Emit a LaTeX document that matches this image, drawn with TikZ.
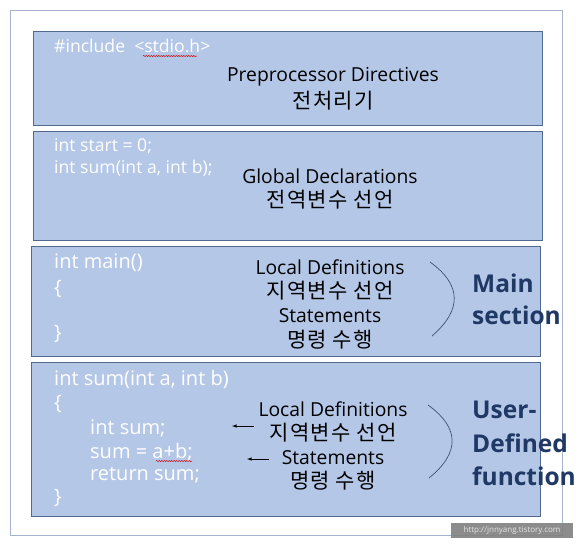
\documentclass[tikz,border=0pt]{standalone}
\usepackage{fontspec}
\setmainfont{Open Sans}
\newfontfamily\kr{Noto Sans CJK KR}[LetterSpace=6]
\usetikzlibrary{decorations.pathmorphing}
\definecolor{boxfill}{RGB}{180,199,231}
\definecolor{boxline}{RGB}{80,105,140}
\definecolor{frameline}{RGB}{165,180,205}
\definecolor{navy}{RGB}{31,56,100}
\tikzset{
  sectbox/.style={fill=boxfill, draw=boxline, line width=0.8pt},
  code/.style={anchor=west, inner sep=0pt, text=white, font=\fontsize{17.6}{20}\selectfont},
  bigcode/.style={code, font=\fontsize{20}{23}\selectfont},
  label/.style={inner sep=0pt, text=black, font=\fontsize{19.3}{22}\selectfont},
  krlabel/.style={inner sep=0pt, text=black, font=\kr\fontsize{21}{24}\selectfont},
  big/.style={anchor=west, inner sep=0pt, text=navy, font=\bfseries\fontsize{24.5}{28}\selectfont},
  squiggle/.style={red!80!black, line width=0.5pt, decorate, decoration={snake, amplitude=0.6pt, segment length=2.5pt}},
  brace/.style={draw=boxline!80!black, line width=0.7pt},
}
\begin{document}
\begin{tikzpicture}[x=1pt, y=-1pt]
\useasboundingbox (0,0) rectangle (587,550);
% outer frame
\draw[frameline, line width=0.8pt] (10,10) rectangle (562,535);

% Preprocessor
\filldraw[sectbox] (33,31) rectangle (542,125);
\node[code] (inc) at (54,46) {\#include \ <stdio.h>};
\draw[squiggle] (143,56) -- (197,56);
\node[label] (pre) at (333,77) {Preprocessor Directives};
\node[krlabel] (prekr) at (333,101) {전처리기};

% Global
\filldraw[sectbox] (33,131) rectangle (542,240);
\node[code] (gstart) at (54,146) {int start = 0;};
\node[code] (gsum) at (54,168) {int sum(int a, int b);};
\node[label] (glob) at (330,176) {Global Declarations};
\node[krlabel] (globkr) at (330,200) {전역변수 선언};

% Main
\filldraw[sectbox] (31,246) rectangle (540,356);
\node[bigcode] (mhead) at (54,263) {int main()};
\node[bigcode] (mopen) at (54,289) {\{};
\node[bigcode] (mclose) at (54,334) {\}};
\node[label] (mloc) at (330,267) {Local Definitions};
\node[krlabel] (mlockr) at (330,291) {지역변수 선언};
\node[label] (mstat) at (330,316) {Statements};
\node[krlabel] (mstatkr) at (330,340) {명령 수행};
\draw[brace] (430,262) .. controls (462,285) and (462,310) .. (432,336);
\node[big] (mainA) at (472,283) {Main};
\node[big] (mainB) at (472,315) {section};

% User-defined
\filldraw[sectbox] (31,362) rectangle (540,516);
\node[bigcode] (uhead) at (54,379) {int sum(int a, int b)};
\node[bigcode] (uopen) at (54,404) {\{};
\node[bigcode] (udecl) at (90,428) {int sum;};
\node[bigcode] (uadd) at (90,452) {sum = a+b;};
\draw[squiggle] (156,461) -- (192,461);
\node[bigcode] (uret) at (90,475) {return sum;};
\node[bigcode] (uclose) at (54,498) {\}};
\node[label] (uloc) at (333,409) {Local Definitions};
\node[krlabel] (ulockr) at (333,433) {지역변수 선언};
\node[label] (ustat) at (333,458) {Statements};
\node[krlabel] (ustatkr) at (333,481) {명령 수행};
\coordinate (a1s) at (254,426);
\coordinate (a1e) at (232,426);
\coordinate (a2s) at (269,459);
\coordinate (a2e) at (247,459);
\draw[-latex, line width=0.6pt] (a1s) -- (a1e);
\draw[-latex, line width=0.6pt] (a2s) -- (a2e);
\draw[brace] (428,405) .. controls (460,428) and (460,453) .. (429,478);
\node[big] (userA) at (472,410) {User-};
\node[big] (userB) at (472,443) {Defined};
\node[big] (userC) at (472,476) {function};

% watermark
\fill[black!50, opacity=0.9] (451,523) rectangle (573,538);
\node[inner sep=0pt, text=white!90!black, font=\fontsize{8}{9}\selectfont] (wm) at (512,530.5) {http://jnnyang.tistory.com};
\end{tikzpicture}
\end{document}
